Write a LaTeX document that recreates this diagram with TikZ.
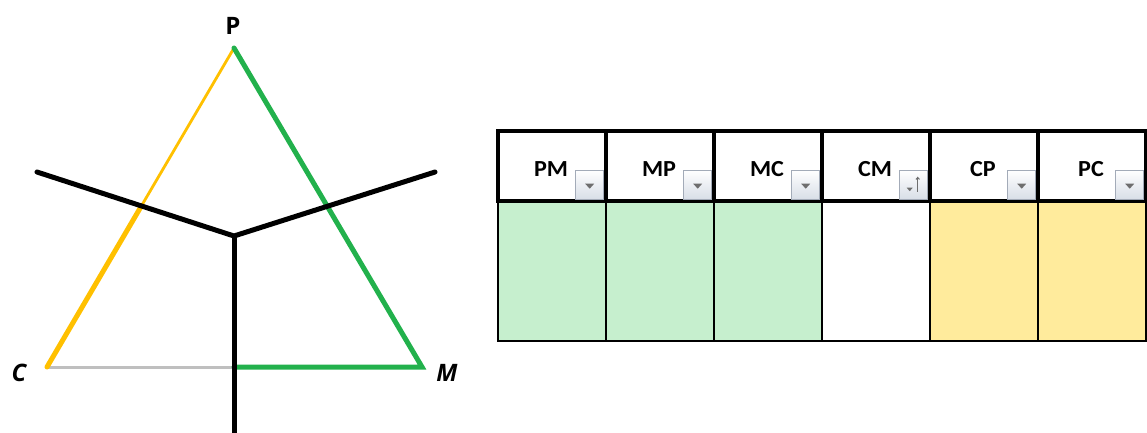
\documentclass[tikz,border=0pt]{standalone}
\usepackage{fontspec}
\setmainfont{Carlito}
\newfontfamily\vertexfont{Open Sans}
\usetikzlibrary{calc,arrows.meta}

\definecolor{edgegreen}{HTML}{22B14C}
\definecolor{edgeyellow}{HTML}{FFC000}
\definecolor{edgegray}{HTML}{BFBFBF}
\definecolor{goodfill}{HTML}{C6EFCE}
\definecolor{neutralfill}{HTML}{FFEB9C}
\definecolor{btnborder}{HTML}{A3ABB8}
\definecolor{btntop}{HTML}{FFFFFF}
\definecolor{btnbottom}{HTML}{D8DEE7}
\definecolor{btnarrow}{HTML}{6E6E6E}

\tikzset{
  vertexlabel/.style={font=\vertexfont\bfseries\fontsize{24}{24}\selectfont, inner sep=0pt},
  bisector/.style={line width=5pt, black, line cap=round, line join=miter},
  hcell/.style={minimum width=108pt, minimum height=70pt, inner sep=0pt, fill=white},
  htext/.style={inner sep=0pt, xscale=1.05, font=\bfseries\fontsize{23}{23}\selectfont},
  bcell/.style={minimum width=108pt, minimum height=140pt, inner sep=0pt, draw=black, line width=1.8pt},
  dropbtn/.style={minimum width=28pt, minimum height=29pt, inner sep=0pt, draw=btnborder,
    line width=1pt, top color=btntop, bottom color=btnbottom},
  gridthick/.style={line width=4.5pt, black},
}

\begin{document}
\begin{tikzpicture}[x=1pt,y=-1pt]
  \useasboundingbox (0,0) rectangle (1147,432);

  % triangle vertices and the meeting point of the three bisector arms
  \coordinate (P) at (234,48);
  \coordinate (C) at (47,367);
  \coordinate (M) at (422,367);
  \coordinate (O) at (234,236);
  \coordinate (armL) at (37,172);
  \coordinate (armR) at (435,172);
  \coordinate (armD) at (234,440);
  \coordinate (foot) at (234,367);
  \coordinate (cross) at ($(P)!0.5!(C)$);

  % triangle sides
  \draw[edgegray, line width=3pt] (C) -- (foot);
  \draw[edgeyellow, line width=2.8pt, line cap=round] (P) -- (cross);
  \draw[edgeyellow, line width=5pt, line cap=round] (cross) -- (C);
  \draw[edgegreen, line width=5pt, line cap=round, line join=miter] (P) -- (M) -- (foot);

  % bisector arms
  \draw[bisector] (armL) -- (O) -- (armR);
  \draw[bisector, line cap=butt] (O) -- (armD);

  % vertex labels
  \node[vertexlabel] (lP) at (233,26) {P};
  \node[vertexlabel] (lC) at (19,373) {\itshape C};
  \node[vertexlabel] (lM) at (447,373) {\itshape M};

  % table header cells
  \node[hcell] (hPM) at (552,166) {};
  \node[hcell] (hMP) at (660,166) {};
  \node[hcell] (hMC) at (768,166) {};
  \node[hcell] (hCM) at (876,166) {};
  \node[hcell] (hCP) at (984,166) {};
  \node[hcell] (hPC) at (1092,166) {};

  % header captions
  \node[htext] (tPM) at (551,169) {PM};
  \node[htext] (tMP) at (659,169) {MP};
  \node[htext] (tMC) at (767,169) {MC};
  \node[htext] (tCM) at (875,169) {CM};
  \node[htext] (tCP) at (983,169) {CP};
  \node[htext] (tPC) at (1091,169) {PC};

  % table body
  \node[bcell, fill=goodfill] (bPM) at (552,271) {};
  \node[bcell, fill=goodfill] (bMP) at (660,271) {};
  \node[bcell, fill=goodfill] (bMC) at (768,271) {};
  \node[bcell, fill=white] (bCM) at (876,271) {};
  \node[bcell, fill=neutralfill] (bCP) at (984,271) {};
  \node[bcell, fill=neutralfill] (bPC) at (1092,271) {};

  % header grid
  \draw[gridthick] (hPM.north west) rectangle (hPC.south east);
  \foreach \c in {hMP,hMC,hCM,hCP,hPC}
    \draw[gridthick] (\c.north west) -- (\c.south west);

  % filter buttons
  \foreach \c in {hPM,hMP,hMC,hCP,hPC} {
    \node[dropbtn] (d\c) at ($(\c.south east)+(-16.5,-16.5)$) {};
    \fill[btnarrow] ($(d\c.center)+(-4.5,-1)$) -- ++(9,0) -- ++(-4.5,5) -- cycle;
  }
  % sorted column button
  \node[dropbtn] (dhCM) at ($(hCM.south east)+(-16.5,-16.5)$) {};
  \fill[btnarrow] ($(dhCM.center)+(-7,3)$) -- ++(6,0) -- ++(-3,3.5) -- cycle;
  \draw[btnarrow, line width=1pt, -{Straight Barb[length=2pt,width=3.5pt]}]
    ($(dhCM.center)+(4,7)$) -- ($(dhCM.center)+(4,-8)$);
\end{tikzpicture}
\end{document}
